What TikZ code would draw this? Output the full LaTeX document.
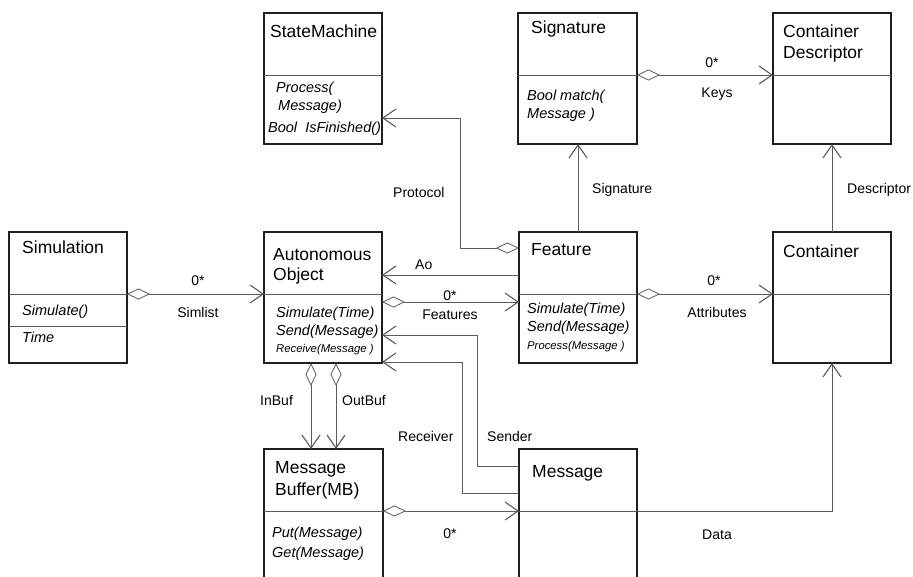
\documentclass[tikz,border=0pt]{standalone}
\usepackage{fontspec}
\setmainfont{Liberation Sans}
\usetikzlibrary{arrows.meta,calc}
\definecolor{conncol}{gray}{0.36}
\definecolor{boxcol}{gray}{0.12}
\tikzset{
  box/.style={draw=boxcol, line width=1.1pt, minimum width=118pt, minimum height=131pt, anchor=north west, inner sep=0pt, outer sep=0pt},
  divline/.style={draw=conncol, line width=0.9pt},
  conn/.style={draw=conncol, line width=0.9pt},
  barb/.tip={Straight Barb[length=13pt,width=18pt,line width=1.1pt]},
  dia/.tip={Diamond[open,fill=white,length=23pt,width=11pt,line width=0.8pt]},
  agg/.style={conn, dia-barb},
  nav/.style={conn, -barb},
  ttl/.style={font=\fontsize{17.5}{20}\selectfont, anchor=base west, inner sep=0pt},
  mth/.style={font=\fontsize{14.5}{18}\selectfont\itshape, anchor=base west, inner sep=0pt},
  sml/.style={font=\fontsize{11.3}{14}\selectfont\itshape, anchor=base west, inner sep=0pt},
  lbl/.style={font=\fontsize{14}{16}\selectfont, anchor=base, inner sep=0pt},
  lbll/.style={font=\fontsize{14}{16}\selectfont, anchor=base west, inner sep=0pt},
}
\begin{document}
\begin{tikzpicture}[x=1pt,y=-1pt]
\clip (0,0) rectangle (913,576);
\fill[white] (0,0) rectangle (913,576);
% boxes
\node[box] (sim) at (9,232) {};
\node[box] (ao) at (264,232) {};
\node[box] (feat) at (519,232) {};
\node[box] (cont) at (773,232) {};
\node[box] (sm) at (264,13) {};
\node[box, minimum width=119pt] (sig) at (518,13) {};
\node[box] (cd) at (773,13) {};
\node[box, minimum width=119pt, minimum height=140pt] (mb) at (264,449) {};
\node[box, minimum height=140pt] (msg) at (519,449) {};
% dividers
\foreach \b in {sim,ao,feat,cont,sm,sig,cd,mb,msg}{
  \draw[divline] ([yshift=-62pt]\b.north west) -- ([yshift=-62pt]\b.north east);
}
\draw[divline] ([yshift=-94pt]sim.north west) -- ([yshift=-94pt]sim.north east);
% texts
\node[ttl] (tsim) at (22,253) {Simulation};
\node[mth] (msim1) at (22,315) {Simulate()};
\node[mth] (msim2) at (22,342) {Time};
\node[ttl] (tao1) at (273,260) {Autonomous};
\node[ttl] (tao2) at (273,280) {Object};
\node[mth] (mao1) at (276,317) {Simulate(Time)};
\node[mth] (mao2) at (276,335) {Send(Message)};
\node[sml] (mao3) at (276,352) {Receive(Message )};
\node[ttl] (tfeat) at (531,255) {Feature};
\node[mth] (mf1) at (527,313) {Simulate(Time)};
\node[mth] (mf2) at (527,331) {Send(Message)};
\node[sml] (mf3) at (527,349) {Process(Message )};
\node[ttl] (tcont) at (783,257) {Container};
\node[ttl] (tsm) at (270,37) {StateMachine};
\node[mth] (msm1) at (276,92) {Process(};
\node[mth] (msm2) at (278,110) {Message)};
\node[mth] (msm3) at (268,132) {Bool\ \ IsFinished()};
\node[ttl] (tsig) at (531,33) {Signature};
\node[mth] (msig1) at (527,100) {Bool match(};
\node[mth] (msig2) at (527,118) {Message )};
\node[ttl] (tcd1) at (783,37) {Container};
\node[ttl] (tcd2) at (783,58) {Descriptor};
\node[ttl] (tmb1) at (275,473) {Message};
\node[ttl] (tmb2) at (275,495) {Buffer(MB)};
\node[mth] (mmb1) at (272,537) {Put(Message)};
\node[mth] (mmb2) at (272,557) {Get(Message)};
\node[ttl] (tmsg) at (532,477) {Message};
% connectors
\draw[agg] ([yshift=-62pt]sim.north east) -- ([yshift=-62pt]ao.north west);
\draw[nav] ([yshift=-43pt]feat.north west) -- ([yshift=-43pt]ao.north east);
\draw[agg] ([yshift=-70pt]ao.north east) -- ([yshift=-70pt]feat.north west);
\draw[agg] ([yshift=-16pt]feat.north west) -- ++(-59,0) |- ([yshift=-105pt]sm.north east);
\draw[nav] (feat.north) -- (feat.north |- sig.south);
\draw[agg] ([yshift=-62pt]sig.north east) -- ([yshift=-62pt]cd.north west);
\draw[nav] (cont.north) -- (cd.south);
\draw[agg] ([yshift=-62pt]feat.north east) -- ([yshift=-62pt]cont.north west);
\draw[agg] ([xshift=47pt]ao.south west) -- ([xshift=47pt]ao.south west |- mb.north);
\draw[agg] ([xshift=72pt]ao.south west) -- ([xshift=72pt]ao.south west |- mb.north);
\draw[nav] ([yshift=-17pt]msg.north west) -- ++(-42,0) |- ([yshift=-103pt]ao.north east);
\draw[nav] ([yshift=-44pt]msg.north west) -- ++(-57,0) |- ([yshift=-130pt]ao.north east);
\draw[agg] ([yshift=-62pt]mb.north east) -- ([yshift=-62pt]msg.north west);
\draw[nav] ([yshift=-62pt]msg.north east) -| (cont.south);
% labels
\node[lbl] (l1) at (198,285) {0*};
\node[lbl] (l2) at (198,317) {Simlist};
\node[lbll] (l3) at (415,269) {Ao};
\node[lbl] (l4) at (450,300) {0*};
\node[lbl] (l5) at (450,319) {Features};
\node[lbll] (l6) at (393,197) {Protocol};
\node[lbll] (l7) at (592,193) {Signature};
\node[lbll] (l8) at (847,193) {Descriptor};
\node[lbl] (l9) at (712,67) {0*};
\node[lbl] (l10) at (717,97) {Keys};
\node[lbl] (l11) at (714,285) {0*};
\node[lbl] (l12) at (717,317) {Attributes};
\node[lbll] (l13) at (260,405) {InBuf};
\node[lbll] (l14) at (342,405) {OutBuf};
\node[lbll] (l15) at (398,441) {Receiver};
\node[lbll] (l16) at (487,441) {Sender};
\node[lbl] (l17) at (450,538) {0*};
\node[lbl] (l18) at (717,539) {Data};
\end{tikzpicture}
\end{document}
